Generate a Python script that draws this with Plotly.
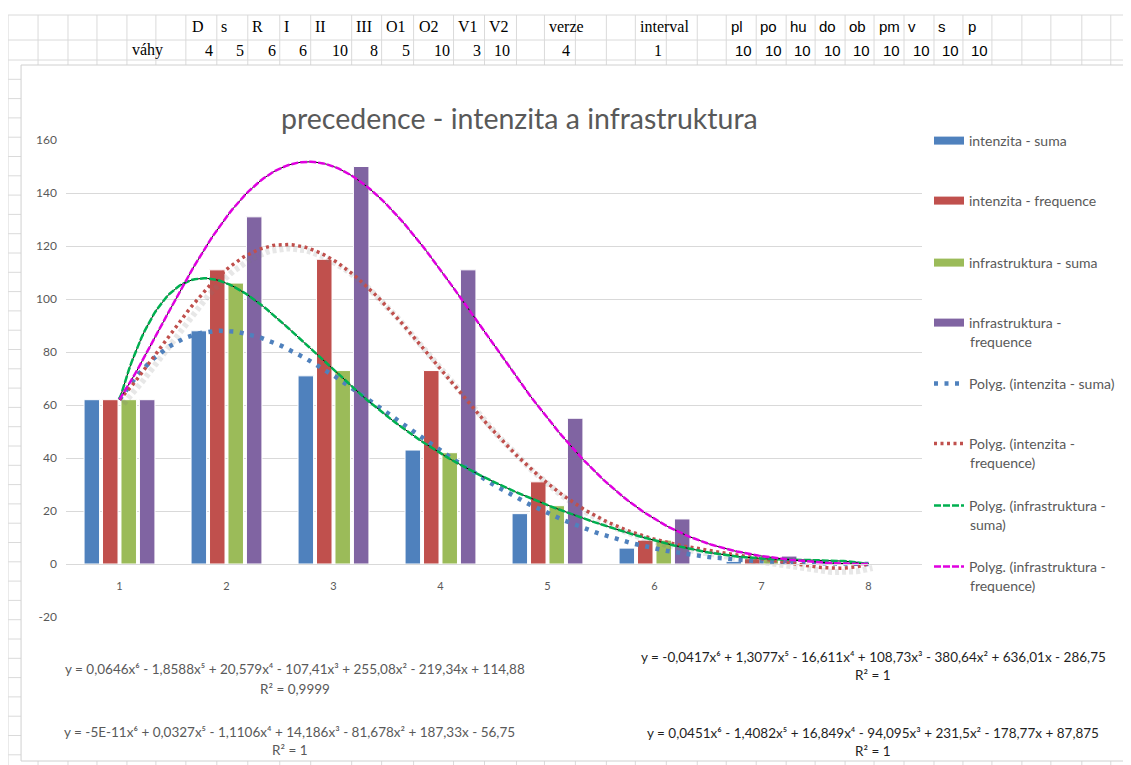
import numpy as np
import plotly.graph_objects as go

# ---------------------------------------------------------------------------
# data
# ---------------------------------------------------------------------------
categories = [1, 2, 3, 4, 5, 6, 7, 8]
intenzita_suma = [62, 88, 71, 43, 19, 6, 1, 0]
intenzita_frekvence = [62, 111, 115, 73, 31, 9, 2, 0]
infrastruktura_suma = [62, 106, 73, 42, 22, 9, 2, 0]
infrastruktura_frekvence = [62, 131, 150, 111, 55, 17, 3, 0]

series_names = ["intenzita - suma", "intenzita - frequence",
                "infrastruktura - suma", "infrastruktura - frequence"]
# legend labels wrap onto a second line as in the reference
legend_first = ["intenzita - suma", "intenzita - frequence", "infrastruktura - suma",
                "infrastruktura -", "Polyg. (intenzita - suma)", "Polyg. (intenzita -",
                "Polyg. (infrastruktura -", "Polyg. (infrastruktura -"]
legend_second = ["", "", "", "frequence", "", "frequence)", "suma)", "frequence)"]
y_ticks = [-20, 0, 20, 40, 60, 80, 100, 120, 140, 160]

equations = [
    "y = 0,0646x⁶ - 1,8588x⁵ + 20,579x⁴ - 107,41x³ + 255,08x² - 219,34x + 114,88",
    "y = -5E-11x⁶ + 0,0327x⁵ - 1,1106x⁴ + 14,186x³ - 81,678x² + 187,33x - 56,75",
    "y = -0,0417x⁶ + 1,3077x⁵ - 16,611x⁴ + 108,73x³ - 380,64x² + 636,01x - 286,75",
    "y = 0,0451x⁶ - 1,4082x⁵ + 16,849x⁴ - 94,095x³ + 231,5x² - 178,77x + 87,875",
]
r_squared = ["R² = 0,9999", "R² = 1", "R² = 1", "R² = 1"]

# spreadsheet cells above the chart
header_serif = ["D", "s", "R", "I", "II", "III", "O1", "O2", "V1", "V2", "verze", "interval"]
header_sans = ["pl", "po", "hu", "do", "ob", "pm", "v", "s", "p"]
vahy_label = "váhy"
vahy = [4, 5, 6, 6, 10, 8, 5, 10, 3, 10]
verze = 4
interval = 1
sans_values = [10, 10, 10, 10, 10, 10, 10, 10, 10]

# ---------------------------------------------------------------------------
# geometry / style  (pixel coords below are screen coords; page body has 8px margin)
# ---------------------------------------------------------------------------
OFF = 8
W, H = 1131 - OFF, 765 - OFF
L, T = 66 - OFF, 140 - OFF
R = W - (923 - OFF)
B = H - (617 - OFF)
PW, PH = W - L - R, H - T - B

FONT = "Lato, 'Open Sans', sans-serif"
GREY_TXT = "#595959"
GRID = "#D9D9D9"
CELL = "#DADADA"

BAR_COLORS = ["#4F81BD", "#C0504D", "#9BBB59", "#8064A2"]
TREND_STYLE = [
    dict(color="#4F81BD", width=4.5, dash="4px,6.5px"),
    dict(color="#C0504D", width=3.5, dash="3px,3.5px"),
    dict(color="#00B050", width=2.5, dash="7px,2px"),
    dict(color="#E000E0", width=2.5, dash="7px,2px"),
]

COL_X = [8, 38, 68, 97, 127, 156, 186, 217, 248, 280, 311, 352, 382, 414, 454,
         485, 517, 545, 576, 607, 636, 667, 698, 727, 757, 787, 816, 846, 875,
         905, 935, 964, 993, 1023, 1052, 1083, 1112]
ROW_Y = [15, 40] + [60 + 19.3 * k for k in range(37)]


def xp(p):
    """screen px -> paper x"""
    return (p - OFF - L) / PW


def yp(p):
    """screen px -> paper y"""
    return (H - B - (p - OFF)) / PH


def hidden_axis(overlay, rng):
    return dict(overlaying=overlay, range=rng, visible=False, showticklabels=False,
                showgrid=False, zeroline=False, ticks="", fixedrange=True)


def text_at(txt, x, y, xanchor, family, size, color):
    return dict(text=txt, x=xp(x), y=yp(y), xref="paper", yref="paper",
                xanchor=xanchor, yanchor="middle", showarrow=False,
                font=dict(family=family, size=size, color=color))


series_values = [intenzita_suma, intenzita_frekvence,
                 infrastruktura_suma, infrastruktura_frekvence]

fig = go.Figure()

# bars (legend handled by swatch traces below)
for name, vals, col in zip(series_names, series_values, BAR_COLORS):
    fig.add_trace(go.Bar(
        x=categories, y=vals, name=name, marker=dict(color=col, line=dict(color="white", width=1)),
        showlegend=False, hoverinfo="skip",
    ))

# order-6 polynomial trendlines fitted to each series (as Excel does)
xs = np.linspace(categories[0], categories[-1], 240)
fits = [np.polyval(np.polyfit(categories, vals, 6), xs) for vals in series_values]

# soft shadow under the red dotted trendline (shifted overlay axes)
fig.add_trace(go.Scatter(
    x=xs, y=fits[1], mode="lines", xaxis="x2", yaxis="y2", showlegend=False,
    line=dict(color="rgba(120,120,120,0.18)", width=6, dash="4px,3px"), hoverinfo="skip",
))

for i, (fy, style) in enumerate(zip(fits, TREND_STYLE)):
    if i >= 2:
        fig.add_trace(go.Scatter(
            x=xs, y=fy, mode="lines", xaxis="x3", yaxis="y3", showlegend=False,
            line=dict(color="black", width=1), hoverinfo="skip",
        ))
    fig.add_trace(go.Scatter(
        x=xs, y=fy, mode="lines", xaxis="x3", yaxis="y3", name=legend_first[i + 4],
        line=style, legend=f"legend{i + 5}", hoverinfo="skip",
    ))

# legend swatches for bars
for i, col in enumerate(BAR_COLORS):
    fig.add_trace(go.Scatter(
        x=[None], y=[None], mode="lines", name=legend_first[i],
        line=dict(color=col, width=8), legend="legend" if i == 0 else f"legend{i + 1}",
    ))

legend_first_line = [140, 200, 262, 322, 383, 443, 505, 566]
legends = {}
for i, yline in enumerate(legend_first_line):
    key = "legend" if i == 0 else f"legend{i + 1}"
    legends[key] = dict(
        x=xp(929), xanchor="left", y=yp(yline - 15), yanchor="top", valign="top",
        bgcolor="rgba(0,0,0,0)", itemwidth=30, itemclick=False, itemdoubleclick=False,
        font=dict(family=FONT, size=14, color=GREY_TXT),
    )

# spreadsheet grid + chart frame
shapes = []
for c in COL_X:
    shapes.append(dict(type="line", xref="paper", yref="paper", x0=xp(c), x1=xp(c),
                       y0=yp(15), y1=yp(770), line=dict(color=CELL, width=1), layer="below"))
for r in ROW_Y:
    if r > 765:
        break
    shapes.append(dict(type="line", xref="paper", yref="paper", x0=xp(8), x1=xp(1135),
                       y0=yp(r), y1=yp(r), line=dict(color=CELL, width=1), layer="below"))
shapes.append(dict(type="rect", xref="paper", yref="paper", x0=xp(21), x1=xp(1127),
                   y0=yp(65), y1=yp(761), fillcolor="white",
                   line=dict(color="#D0D0D0", width=1), layer="below"))

annotations = []
serif_x = [190, 219, 250, 282, 313, 354, 384, 417, 456, 487, 548, 639]
for txt, x in zip(header_serif, serif_x):
    annotations.append(text_at(txt, x, 27, "left", "Liberation Serif", 16, "black"))
sans_x = [730, 759, 789, 818, 848, 878, 907, 937, 967]
for txt, x in zip(header_sans, sans_x):
    annotations.append(text_at(txt, x, 27, "left", "Liberation Sans", 15, "black"))
annotations.append(text_at(vahy_label, 130, 50, "left", "Liberation Serif", 16, "black"))
vahy_right = [215, 246, 278, 309, 350, 380, 412, 452, 483, 513]
for v, x in zip(vahy + [verze, interval], vahy_right + [573, 665]):
    annotations.append(text_at(str(v), x, 50, "right", "Liberation Serif", 16, "black"))
sans_right = [755, 785, 814, 844, 873, 903, 933, 962, 991]
for v, x in zip(sans_values, sans_right):
    annotations.append(text_at(str(v), x, 50, "right", "Liberation Sans", 15, "black"))

# second lines of the wrapped legend labels
for txt, yline in zip(legend_second, legend_first_line):
    if txt:
        annotations.append(text_at(txt, 969, yline + 19, "left", FONT, 14, GREY_TXT))

# title
annotations.append(text_at("precedence - intenzita a infrastruktura", 520, 118, "center",
                           FONT, 28.5, GREY_TXT))

# trendline equations
eq_pos = [(295, 669, 689, GREY_TXT), (290, 732, 750, GREY_TXT),
          (874, 657, 675, "#1F1F1F"), (874, 733, 751, "#1F1F1F")]
for eq, r2, (x, y1, y2, col) in zip(equations, r_squared, eq_pos):
    annotations.append(text_at(eq, x, y1, "center", FONT, 13.5, col))
    annotations.append(text_at(r2, x, y2, "center", FONT, 13.5, col))

SHIFT = 4  # shadow offset in px
dx = SHIFT / (PW / 8)
dy = SHIFT / (PH / 180)

fig.update_layout(
    width=W, height=H,
    margin=dict(l=L, r=R, t=T, b=B, pad=0),
    paper_bgcolor="white", plot_bgcolor="rgba(0,0,0,0)",
    barmode="group", bargap=0.31, bargroupgap=0.16,
    font=dict(family=FONT, size=12, color=GREY_TXT),
    xaxis=dict(range=[0.5, 8.5], tickvals=categories, ticktext=[str(c) for c in categories],
               anchor="free", position=20 / 180, showline=True, linecolor=GRID, linewidth=1,
               showgrid=False, zeroline=False, ticks="", ticklabelstandoff=12,
               tickfont=dict(size=11, color=GREY_TXT), fixedrange=True),
    yaxis=dict(range=[-20, 160], tickvals=y_ticks, ticktext=[str(v) for v in y_ticks],
               showgrid=True, gridcolor=GRID, gridwidth=1, zeroline=False, ticks="",
               ticklabelstandoff=8, tickfont=dict(size=12, color=GREY_TXT), fixedrange=True),
    xaxis2=hidden_axis("x", [0.5 - dx, 8.5 - dx]),
    yaxis2=hidden_axis("y", [-20 + dy, 160 + dy]),
    xaxis3=hidden_axis("x", [0.5, 8.5]),
    yaxis3=hidden_axis("y", [-20, 160]),
    shapes=shapes,
    annotations=annotations,
    **legends,
)

fig.write_html("out.html")
